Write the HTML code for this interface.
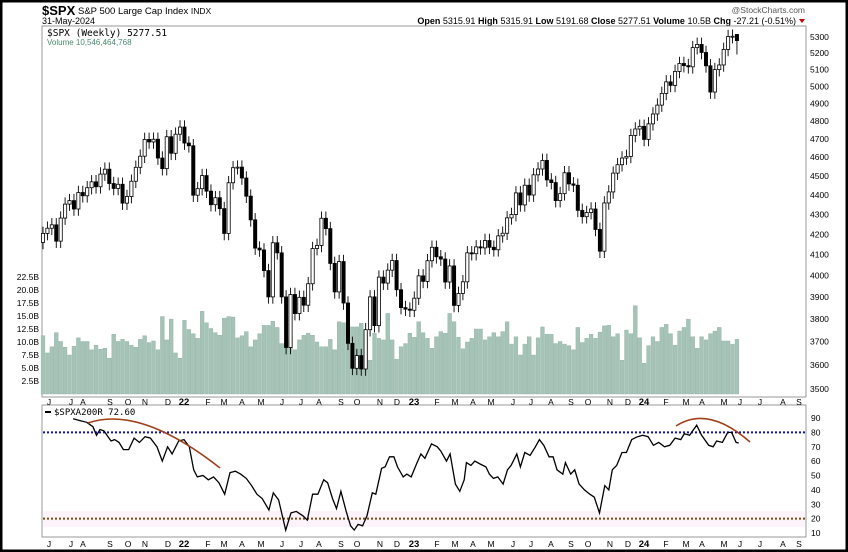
<!DOCTYPE html>
<html><head><meta charset="utf-8"><style>
html,body{margin:0;padding:0;background:#fff;}
svg{display:block;font-family:"Liberation Sans",sans-serif;}
</style></head><body>
<svg id="chart" width="848" height="552" viewBox="0 0 848 552" xmlns="http://www.w3.org/2000/svg">
<rect x="1" y="1" width="846" height="550" fill="#fff" stroke="#000" stroke-width="3"/>
<text x="42" y="15" font-size="13" font-weight="bold">$SPX</text>
<text x="78" y="14" font-size="9.5">S&amp;P 500 Large Cap Index <tspan font-size="8.5">INDX</tspan></text>
<text x="42" y="24" font-size="9">31-May-2024</text>
<text x="805" y="13" font-size="8.5" fill="#555" text-anchor="end">@StockCharts.com</text>
<text x="796" y="24" font-size="9" text-anchor="end"><tspan font-weight="bold">Open</tspan> 5315.91 <tspan font-weight="bold">High</tspan> 5315.91 <tspan font-weight="bold">Low</tspan> 5191.68 <tspan font-weight="bold">Close</tspan> 5277.51 <tspan font-weight="bold">Volume</tspan> 10.5B <tspan font-weight="bold">Chg</tspan> -27.21 (-0.51%)</text>
<polygon points="799,19 805,19 802,23" fill="#c00"/>
<rect x="42" y="26" width="764" height="371" fill="none" stroke="#999" stroke-width="1"/>
<rect x="42" y="405" width="764" height="132" fill="none" stroke="#999" stroke-width="1"/>
<rect x="43" y="511" width="762" height="16" fill="#fdf3fb"/>
<g id="vol"></g>
<g id="candles"></g>
<g id="axes"></g>
<line x1="43" x2="805" y1="432.4" y2="432.4" stroke="#1010c0" stroke-width="2" stroke-dasharray="2,2"/>
<line x1="43" x2="805" y1="518.6" y2="518.6" stroke="#7a4a10" stroke-width="2" stroke-dasharray="2,2"/>
<path id="breadth" fill="none" stroke="#000" stroke-width="1.3"/>
<path d="M88,423 Q140,405 220,468" fill="none" stroke="#a0401a" stroke-width="1.6"/>
<path d="M676,426 Q708,405 750,442" fill="none" stroke="#a0401a" stroke-width="1.6"/>
<text x="47" y="36" font-size="9.5" font-family="DejaVu Sans Mono,monospace">$SPX (Weekly) 5277.51</text>
<text x="47" y="45" font-size="8" fill="#4a8a70">Volume 10,546,464,768</text>
<line x1="45" x2="51" y1="412" y2="412" stroke="#000" stroke-width="2"/>
<text x="54" y="415" font-size="9" font-family="DejaVu Sans Mono,monospace">$SPXA200R 72.60</text>
</svg>
<script>
const closes=[4204,4230,4247,4166,4281,
4352,4370,4327,4412,4395,4437,4468,4442,4509,4535,4459,4433,4455,4357,4391,4471,4545,4605,4697,4683,4698,4595,4538,4712,4621,4726,4766,
4677,4662,4398,4432,4501,4419,4349,4385,4329,4204,4463,4543,4546,4488,4393,4272,4132,4123,4024,3901,4158,4109,3901,3675,3912,3825,3899,3863,3962,4130,4145,4280,4228,4058,3924,4067,3873,3693,3586,3640,3583,3753,3901,3771,3993,3965,4026,4072,3934,3852,3845,3840,
3895,3999,3973,4071,4136,4090,4079,3970,4046,3862,3917,3971,4109,4105,4138,4133,4169,4136,4124,4192,4205,4282,4299,4410,4348,4450,4399,4505,4536,4582,4478,4464,4370,4406,4516,4457,4450,4320,4288,4309,4327,4224,4117,4358,4415,4514,4559,4595,4604,4719,4755,4770,
4697,4784,4840,4891,4959,5027,5006,5089,5137,5124,5117,5234,5254,5204,5123,4967,5100,5128,5223,5303,5305,5277.51];
const firstOpen=4160;
const volumes=[11.2,7.9,9.1,11.8,10.1,9.0,7.5,9.2,10.8,10.1,10.1,8.5,9.4,8.6,8.8,6.9,11.5,10.1,10.5,10.1,9.4,9.0,10.5,11.2,9.9,10.2,8.5,14.9,10.4,14.4,7.9,6.9,14.2,12.4,11.6,10.7,15.9,13.7,12.6,11.8,11.3,14.6,14.9,14.8,10.8,11.2,12.0,9.1,10.4,11.6,13.2,13.2,14.0,12.8,9.7,10.4,
11.0,8.5,10.4,11.3,11.7,11.3,10.0,9.1,9.1,10.5,8.5,13.9,13.7,13.2,12.9,12.9,13.6,11.8,6.5,11.7,10.7,10.4,15.5,10.4,6.7,9.1,9.7,11.7,10.9,13.9,11.8,10.7,8.8,11.0,12.0,11.7,15.5,13.9,10.9,8.7,10.0,10.7,12.5,12.5,10.4,11.0,11.8,11.0,12.0,13.9,9.6,11.0,7.5,
9.6,11.0,7.5,10.8,12.9,11.5,11.5,9.7,10.1,9.6,9.3,8.5,12.8,9.9,10.7,11.5,10.7,11.9,13.1,13.2,11.0,11.6,6.5,12.3,11.6,17.0,10.8,5.9,9.3,11.0,10.1,12.8,13.4,11.6,9.4,12.1,12.8,14.4,11.0,8.8,11.0,10.4,11.6,12.1,12.8,10.2,10.2,9.6,10.5];
const breadthWeek=[6.8,8.6,9.9,10.8,11.3,12.1,12.9,13.8,14.7,15.4,16.2,17.2,18.2,19.4,20.6,21.8,23.1,24.3,25.8,27,28.2,29.2,30.7,31.9,33.1,34.1,34.9,36.2,37.4,38.6,39.8,41.1,42.3,43.5,44.7,46,47.2,48.4,49.6,51.1,52.1,53.3,54.9,56.1,57.3,58.8,59.8,61,62.2,63.5,64.4,65.5,66.4,67.4,68.6,69.6,70.4,71.3,72.3,73.3,74.5,75.3,76.6,77.4,78.4,79.4,80.2,81.5,82.3,83.3,84.5,85.5,86.4,87.9,89.2,90,91.3,92.1,93.3,94.3,95.3,95.8,96.8,97.7,98.9,100.2,101,101.9,102.9,104.1,105.1,105.9,107.2,108,109,110.2,111.4,112.3,113.3,114.5,115.4,116.3,117.6,118.2,119.4,120.3,121.3,122.5,123.7,124.7,125.9,127.1,128,128.8,129.8,131,132,133.2,134.5,135.7,136.9,138.1,139.3,140.6,141.8,143,144.3,145.1,146.3,147.9,149,150.6,151.6,152.4,153.7,154.9,155.8,156.8,157.4];
const breadthVal=[89.5,88,87,85,84,78,82,81,77,74,75,73,68,68,76,73,77,76,70,60,70,65,74,75,70,54,49,50,47,49,45,37,52,53,51,48,43,37,34,26,38,33,12,24,25,22,19,37,37,47,45,34,27,39,25,15,12,16,15,22,38,37,55,56,63,63,56,49,51,49,58,65,62,72,70,67,60,65,44,39,47,59,57,60,58,56,51,48,49,44,54,57,65,56,66,64,70,75,71,63,63,54,51,59,51,54,44,40,37,35,24,43,40,54,57,66,66,75,77,78,77,71,73,70,71,76,75,79,78,85,78,71,70,74,73,80,80,73,72.6];
const priceTicks=[5300,5200,5100,5000,4900,4800,4700,4600,4500,4400,4300,4200,4100,4000,3900,3800,3700,3600,3500];
const volTicks=[2.5,5,7.5,10,12.5,15,17.5,20,22.5];
const breadthTicks=[90,80,70,60,50,40,30,20,10];
const monthLabels=["J","J","A","S","O","N","D","22","F","M","A","M","J","J","A","S","O","N","D","23","F","M","A","M","J","J","A","S","O","N","D","24","F","M","A","M","J","J","A","S"];
const monthX=[49,71,83,110,128,145,168,184,208,224,242,261,282,301,319,341,357,380,397,414,437,455,473,491,513,531,551,571,588,610,628,644,666,686,702,724,740,760,783,799];

const NS="http://www.w3.org/2000/svg";
const xW=i=>43+i*4.42;
const yP=p=>37+848*Math.log(5300/p);
const yV=v=>394-5.2*v;
const yB=v=>418+(90-v)*1.4375;
function mk(tag,attrs,parent){const e=document.createElementNS(NS,tag);for(const k in attrs)e.setAttribute(k,attrs[k]);parent.appendChild(e);return e;}
const vol=document.getElementById('vol'),cg=document.getElementById('candles'),ax=document.getElementById('axes');
volumes.forEach((v,i)=>{const r=mk('rect',{x:xW(i)-1.9,y:yV(v),width:3.8,height:394-yV(v),fill:'#a6c3b7',stroke:'#8fb0a2','stroke-width':0.4},vol);

});
closes.forEach((c,i)=>{const o=i===0?firstOpen:(i===closes.length-1?5315.91:closes[i-1]);
const hi=i===closes.length-1?5315.91:Math.max(o,c)*1.008, lo=i===closes.length-1?5191.68:Math.min(o,c)*0.992;
const x=xW(i);
const w=mk('line',{x1:x,x2:x,y1:yP(hi),y2:yP(lo),stroke:'#000','stroke-width':0.9},cg);


const top=yP(Math.max(o,c)),bot=yP(Math.min(o,c));
const b=mk('rect',{x:x-1.6,y:top,width:3.2,height:Math.max(1,bot-top),fill:c>=o?'#fff':'#000',stroke:'#000','stroke-width':0.8},cg);

});
priceTicks.forEach(p=>{const t=mk('text',{x:810,y:yP(p)+3,'font-size':8.5},ax);t.textContent=p;

});
volTicks.forEach(v=>{const t=mk('text',{x:39,y:yV(v)+3,'font-size':8.5,'text-anchor':'end'},ax);t.textContent=v.toFixed(1)+'B';

});
breadthTicks.forEach(v=>{const t=mk('text',{x:811,y:yB(v)+3,'font-size':8.5},ax);t.textContent=v;

});
monthLabels.forEach((m,i)=>{[405,547].forEach(y=>{const bold=/\d/.test(m);
const t=mk('text',{x:monthX[i],y:y,'font-size':bold?9.5:8.5,'font-weight':bold?'bold':'normal','text-anchor':'middle'},ax);t.textContent=m;

});});
let d='';breadthWeek.forEach((w,i)=>{d+=(i?'L':'M')+xW(w).toFixed(1)+','+yB(breadthVal[i]).toFixed(1);});
document.getElementById('breadth').setAttribute('d',d);
</script>
</body></html>
